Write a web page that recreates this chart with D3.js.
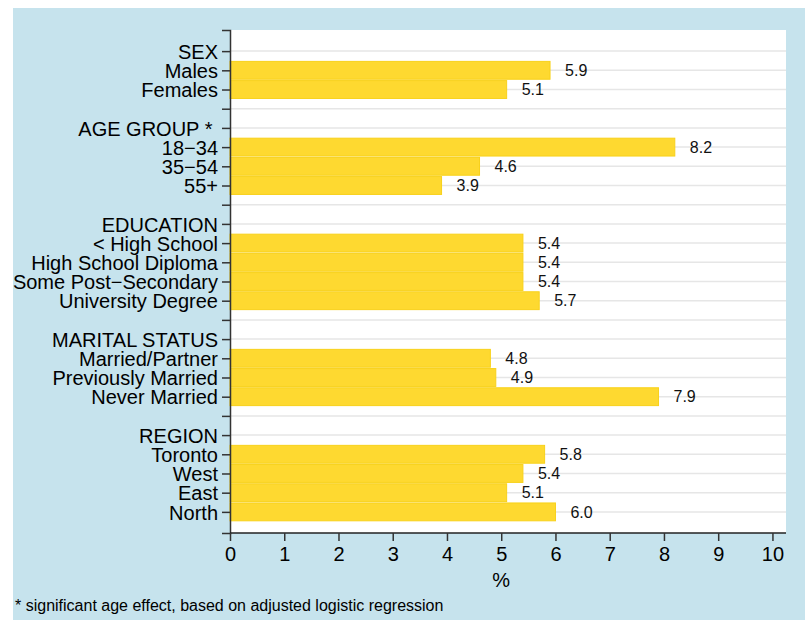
<!DOCTYPE html>
<html>
<head>
<meta charset="utf-8">
<script src="https://cdn.jsdelivr.net/npm/d3@7"></script>
<style>
  body { margin: 0; background: #fff; }
  text { font-family: "Liberation Sans", Arial, sans-serif; }
</style>
</head>
<body>
<div id="chart"></div>
<script>
// rows from top to bottom, "" = empty spacer row
const rowLabels = ["SEX", "Males", "Females", "",
    "AGE GROUP * ", "18−34", "35−54", "55+", "",
    "EDUCATION", "< High School", "High School Diploma", "Some Post−Secondary", "University Degree", "",
    "MARITAL STATUS", "Married/Partner", "Previously Married", "Never Married", "",
    "REGION", "Toronto", "West", "East", "North"]
// percent per row, null where there is no bar
const rates = [null, 5.9, 5.1, null,
    null, 8.2, 4.6, 3.9, null,
    null, 5.4, 5.4, 5.4, 5.7, null,
    null, 4.8, 4.9, 7.9, null,
    null, 5.8, 5.4, 5.1, 6.0]
const xTicks = [0, 1, 2, 3, 4, 5, 6, 7, 8, 9, 10]

let W = 805, H = 620
let plot = {left: 230, right: 786, top: 30, bottom: 533}

const svg = d3.select("#chart")
    .append("svg")
    .attr("width", W)
    .attr("height", H)

// light blue page background
svg.append("rect")
    .attr("x", 13).attr("y", 8)
    .attr("width", W - 13).attr("height", H - 8)
    .attr("fill", "#c6e3ed")

svg.append("rect")
    .attr("x", plot.left).attr("y", plot.top)
    .attr("width", plot.right - plot.left).attr("height", plot.bottom - plot.top)
    .attr("fill", "#fff")

var y = d3.scalePoint()
    .domain(d3.range(rowLabels.length))
    .range([plot.top, plot.bottom])
    .padding(1.1)

var x = d3.scaleLinear()
    .domain([0, 10.25])
    .range([plot.left, plot.right])

// gridlines
svg.append("g")
    .selectAll("line")
    .data(y.domain())
    .enter().append("line")
    .attr("x1", plot.left).attr("x2", plot.right)
    .attr("y1", d => y(d)).attr("y2", d => y(d))
    .attr("stroke", "#e6e6e6")
    .attr("stroke-width", 1.5)

let bh = y.step() * 0.93
var bars = rates.map((v, i) => ({i: i, v: v})).filter(d => d.v !== null)

svg.append("g")
    .selectAll("rect")
    .data(bars)
    .enter().append("rect")
    .attr("x", x(0))
    .attr("y", d => y(d.i) - bh / 2)
    .attr("width", d => x(d.v) - x(0))
    .attr("height", bh)
    .attr("fill", "#fed930")
    .attr("stroke", "#f8d11a")
    .attr("stroke-width", 1)

svg.append("g")
    .selectAll("text")
    .data(bars)
    .enter().append("text")
    .attr("x", d => x(d.v) + 15)
    .attr("y", d => y(d.i))
    .attr("dy", "0.36em")
    .style("font-size", "16px")
    .attr("fill", "#111")
    .text(d => d3.format(".1f")(d.v))

// left axis
var yAxis = svg.append("g")
    .attr("transform", "translate(" + plot.left + ",0)")
    .call(d3.axisLeft(y).tickSizeOuter(0).tickSize(8).tickPadding(4)
        .tickFormat(i => rowLabels[i]))
yAxis.selectAll("text")
    .style("font-size", "20px")
    .style("white-space", "pre")
    .attr("dy", "0.36em")
    .attr("fill", "#000")
yAxis.select(".domain").attr("stroke", "#333").attr("stroke-width", 1.5)
yAxis.selectAll(".tick line").attr("stroke", "#333").attr("stroke-width", 1.5)

// bottom axis
var xAxis = svg.append("g")
    .attr("transform", "translate(0," + plot.bottom + ")")
    .call(d3.axisBottom(x).tickValues(xTicks).tickSizeOuter(0).tickSize(8).tickPadding(6))
xAxis.selectAll("text")
    .style("font-size", "20px")
    .attr("fill", "#000")
xAxis.select(".domain").attr("stroke", "#222").attr("stroke-width", 1.5)
    .attr("d", "M" + plot.left + ",0H" + plot.right)
xAxis.selectAll(".tick line").attr("stroke", "#333").attr("stroke-width", 1.5)

// x-axis title
svg.append("text")
    .attr("x", x(5))
    .attr("y", 587)
    .attr("text-anchor", "middle")
    .style("font-size", "20px")
    .text("%")

// footnote
svg.append("text")
    .attr("x", 15)
    .attr("y", 611)
    .style("font-size", "16px")
    .text("* significant age effect, based on adjusted logistic regression")
</script>
</body>
</html>
